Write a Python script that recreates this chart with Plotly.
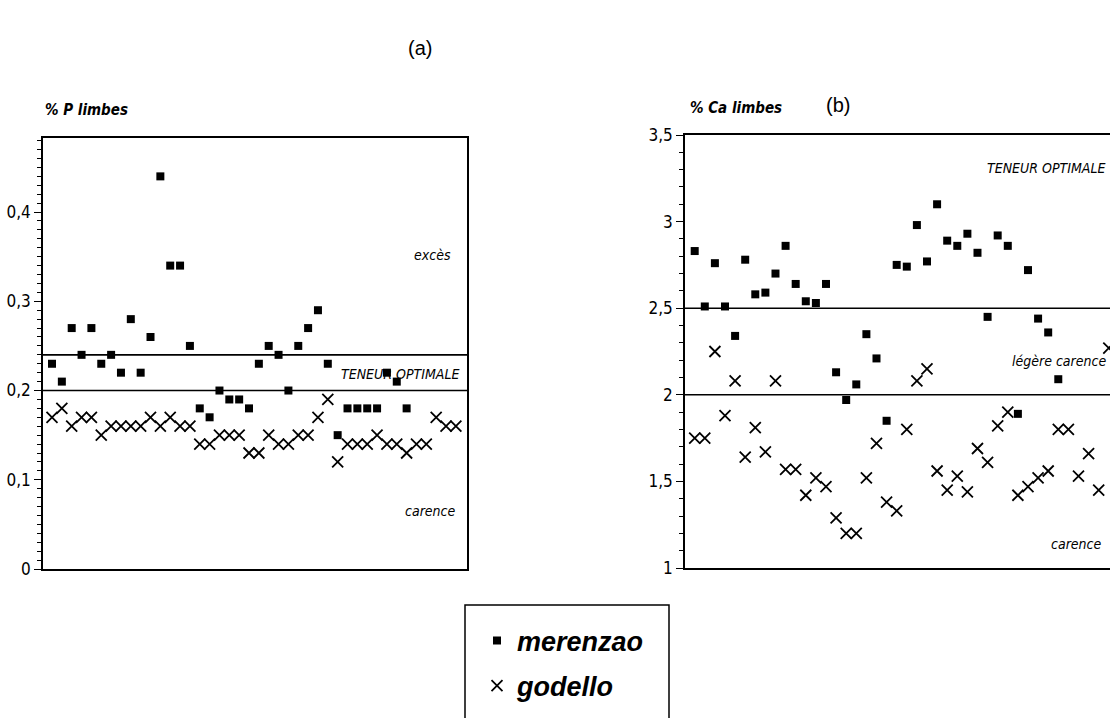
import plotly.graph_objects as go

# ---- data ----
p_merenzao = [0.23, 0.21, 0.27, 0.24, 0.27, 0.23, 0.24, 0.22, 0.28, 0.22,
              0.26, 0.44, 0.34, 0.34, 0.25, 0.18, 0.17, 0.20, 0.19, 0.19,
              0.18, 0.23, 0.25, 0.24, 0.20, 0.25, 0.27, 0.29, 0.23, 0.15,
              0.18, 0.18, 0.18, 0.18, 0.22, 0.21, 0.18]
p_godello = [0.17, 0.18, 0.16, 0.17, 0.17, 0.15, 0.16, 0.16, 0.16, 0.16,
             0.17, 0.16, 0.17, 0.16, 0.16, 0.14, 0.14, 0.15, 0.15, 0.15,
             0.13, 0.13, 0.15, 0.14, 0.14, 0.15, 0.15, 0.17, 0.19, 0.12,
             0.14, 0.14, 0.14, 0.15, 0.14, 0.14, 0.13, 0.14, 0.14, 0.17,
             0.16, 0.16]
ca_merenzao = [2.83, 2.51, 2.76, 2.51, 2.34, 2.78, 2.58, 2.59, 2.70, 2.86,
               2.64, 2.54, 2.53, 2.64, 2.13, 1.97, 2.06, 2.35, 2.21, 1.85,
               2.75, 2.74, 2.98, 2.77, 3.10, 2.89, 2.86, 2.93, 2.82, 2.45,
               2.92, 2.86, 1.89, 2.72, 2.44, 2.36, 2.09]
ca_godello = [1.75, 1.75, 2.25, 1.88, 2.08, 1.64, 1.81, 1.67, 2.08, 1.57,
              1.57, 1.42, 1.52, 1.47, 1.29, 1.20, 1.20, 1.52, 1.72, 1.38,
              1.33, 1.80, 2.08, 2.15, 1.56, 1.45, 1.53, 1.44, 1.69, 1.61,
              1.82, 1.90, 1.42, 1.47, 1.52, 1.56, 1.80, 1.80, 1.53, 1.66,
              1.45, 2.27]

p_limits = [0.24, 0.20]        # TENEUR OPTIMALE band (P)
ca_limits = [2.5, 2.0]         # TENEUR OPTIMALE / légère carence (Ca)
series_names = ["merenzao", "godello"]

W, H = 1110, 718
NARROW = "Liberation Sans Narrow, Arial Narrow, DejaVu Sans Condensed, sans-serif"
SANS = "Liberation Sans, Arial, Helvetica, sans-serif"


def px(x):
    return x / W


def py(y):
    return 1 - y / H


def idx(vals):
    return list(range(1, len(vals) + 1))


sq = dict(symbol="square", size=8, color="black")
cross = dict(symbol="x-thin", size=11, color="black", line=dict(color="black", width=1.8))

fig = go.Figure()
fig.add_trace(go.Scatter(x=idx(p_merenzao), y=p_merenzao, mode="markers", marker=sq,
                         name=series_names[0], xaxis="x", yaxis="y", legend="legend"))
fig.add_trace(go.Scatter(x=idx(p_godello), y=p_godello, mode="markers", marker=cross,
                         name=series_names[1], xaxis="x", yaxis="y", legend="legend2"))
fig.add_trace(go.Scatter(x=idx(ca_merenzao), y=ca_merenzao, mode="markers", marker=sq,
                         name=series_names[0], xaxis="x2", yaxis="y2", showlegend=False))
fig.add_trace(go.Scatter(x=idx(ca_godello), y=ca_godello, mode="markers", marker=cross,
                         name=series_names[1], xaxis="x2", yaxis="y2", showlegend=False))

axline = dict(showline=True, linecolor="black", linewidth=1.6, showgrid=False, zeroline=False)
tickfont = dict(family=NARROW, size=17, color="black")
legfont = dict(family=SANS, size=27, color="black", weight="bold", style="italic")

fig.update_layout(
    template="none",
    width=W, height=H,
    margin=dict(l=0, r=0, t=0, b=0),
    paper_bgcolor="white", plot_bgcolor="white",
    separators=", ",
    xaxis=dict(domain=[px(43), px(467)], anchor="y", range=[0.086, 43.13],
               showticklabels=False, ticks="", mirror=True, **axline),
    yaxis=dict(domain=[py(569), py(138)], anchor="x", range=[0, 0.483],
               dtick=0.1, tick0=0, ticks="outside", ticklen=7, tickwidth=1.4,
               tickcolor="black", tickfont=tickfont, mirror=True,
               minor=dict(dtick=0.01, ticks="outside", ticklen=4, tickwidth=1, tickcolor="black"),
               **axline),
    xaxis2=dict(domain=[px(685), 1.0], anchor="y2", range=[0.04, 42.12],
                showticklabels=False, ticks="", mirror=True, **axline),
    yaxis2=dict(domain=[py(568), py(135)], anchor="x2", range=[1, 3.5],
                dtick=0.5, tick0=1, ticks="outside", ticklen=7, tickwidth=1.4,
                tickcolor="black", tickfont=tickfont, mirror=False,
                minor=dict(dtick=0.1, ticks="outside", ticklen=4, tickwidth=1, tickcolor="black"),
                **axline),
    legend=dict(x=px(477), y=py(641), xanchor="left", yanchor="middle",
                bgcolor="rgba(0,0,0,0)", borderwidth=0, font=legfont),
    legend2=dict(x=px(477), y=py(686), xanchor="left", yanchor="middle",
                 bgcolor="rgba(0,0,0,0)", borderwidth=0, font=legfont),
    showlegend=True,
)

# reference lines
for v in p_limits:
    fig.add_shape(type="line", xref="x domain", yref="y", x0=0, x1=1, y0=v, y1=v,
                  line=dict(color="black", width=1.6))
for v in ca_limits:
    fig.add_shape(type="line", xref="x2 domain", yref="y2", x0=0, x1=1, y0=v, y1=v,
                  line=dict(color="black", width=1.6))

# legend frame
fig.add_shape(type="rect", xref="paper", yref="paper", x0=px(465), x1=px(669),
              y0=-0.1, y1=py(605), line=dict(color="black", width=1.5), layer="below")

ital = dict(family=NARROW, size=14, color="black", style="italic")
ann = [
    dict(text="excès", xref="x domain", yref="y", x=0.967, y=0.352),
    dict(text="TENEUR OPTIMALE", xref="x domain", yref="y", x=0.987, y=0.219),
    dict(text="carence", xref="x domain", yref="y", x=0.976, y=0.065),
    dict(text="TENEUR OPTIMALE", xref="x2 domain", yref="y2", x=0.993, y=3.31),
    dict(text="légère carence", xref="x2 domain", yref="y2", x=0.995, y=2.195),
    dict(text="carence", xref="x2 domain", yref="y2", x=0.984, y=1.14),
]
for a in ann:
    fig.add_annotation(showarrow=False, xanchor="right", yanchor="middle", font=ital, **a)

titlefont = dict(family=NARROW, size=15, color="black", weight="bold", style="italic")
fig.add_annotation(text="% P limbes", xref="paper", yref="paper", x=px(43), y=py(110),
                   xanchor="left", yanchor="middle", showarrow=False, font=titlefont)
fig.add_annotation(text="% Ca limbes", xref="paper", yref="paper", x=px(688), y=py(108),
                   xanchor="left", yanchor="middle", showarrow=False, font=titlefont)

panelfont = dict(family=SANS, size=20, color="black")
fig.add_annotation(text="(a)", xref="paper", yref="paper", x=px(420), y=py(48),
                   xanchor="center", yanchor="middle", showarrow=False, font=panelfont)
fig.add_annotation(text="(b)", xref="paper", yref="paper", x=px(838), y=py(105),
                   xanchor="center", yanchor="middle", showarrow=False, font=panelfont)

fig.write_html("out.html", config=dict(displayModeBar=False),
               post_script="document.body.style.margin='0';document.body.style.overflow='hidden';")
